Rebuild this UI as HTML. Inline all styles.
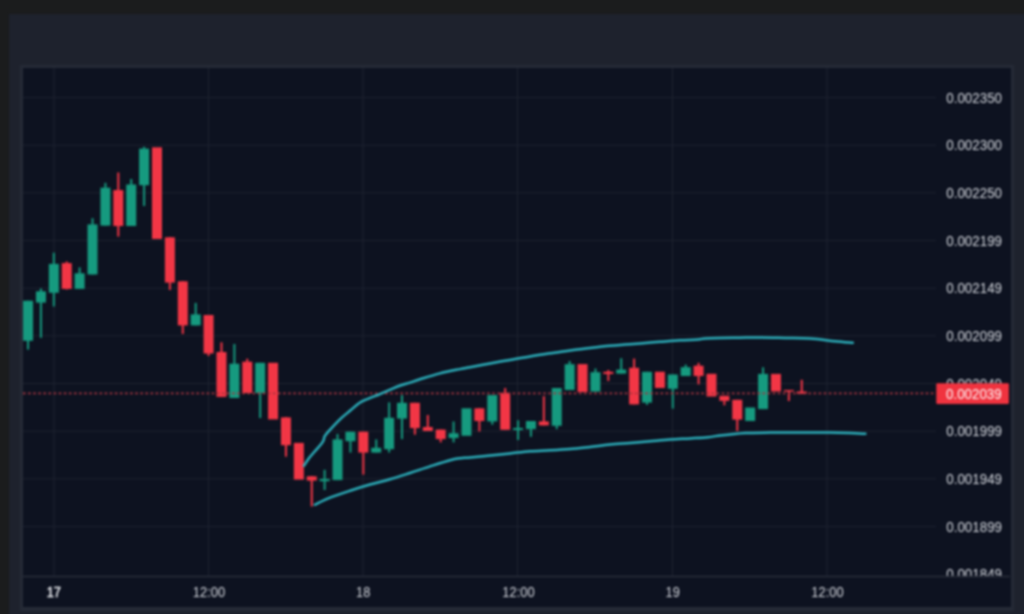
<!DOCTYPE html>
<html><head><meta charset="utf-8"><title>Chart</title>
<style>
html,body{margin:0;padding:0;background:#1b1c1d;width:1024px;height:614px;overflow:hidden;position:relative}
.panel{position:absolute;left:9px;top:14px;width:1031px;height:616px;background:#1e222d}
.frame{position:absolute;left:20px;top:65px;width:994px;height:546px;background:#252a36}
.chart{position:absolute;left:23px;top:68px;width:988px;height:539px;background:#0d1220}
svg{position:absolute;left:0;top:0}
#w{position:absolute;left:0;top:0;width:1040px;height:630px;filter:blur(0.8px)}
text{font-family:"Liberation Sans",sans-serif}
.pl text{font-size:14.5px;fill:#d6d9df}
.tl text{font-size:14.5px;fill:#d6d9df}
.tl text.b{fill:#eceef2;stroke:#eceef2;stroke-width:0.45px}
.cp{font-size:14.5px;fill:#ffffff}
</style></head><body>
<div id="w"><div class="panel"></div><div class="frame"></div><div class="chart"></div>
<svg width="1024" height="614" viewBox="0 0 1024 614">
<g stroke="#1e2330" stroke-width="1"><line x1="54" y1="68" x2="54" y2="576"/><line x1="208.5" y1="68" x2="208.5" y2="576"/><line x1="363" y1="68" x2="363" y2="576"/><line x1="517.5" y1="68" x2="517.5" y2="576"/><line x1="672.5" y1="68" x2="672.5" y2="576"/><line x1="827" y1="68" x2="827" y2="576"/><line x1="23" y1="97.6" x2="936" y2="97.6"/><line x1="23" y1="145.25" x2="936" y2="145.25"/><line x1="23" y1="192.9" x2="936" y2="192.9"/><line x1="23" y1="240.55" x2="936" y2="240.55"/><line x1="23" y1="288.2" x2="936" y2="288.2"/><line x1="23" y1="335.85" x2="936" y2="335.85"/><line x1="23" y1="383.5" x2="936" y2="383.5"/><line x1="23" y1="431.15" x2="936" y2="431.15"/><line x1="23" y1="478.8" x2="936" y2="478.8"/><line x1="23" y1="526.45" x2="936" y2="526.45"/></g>
<g fill="#169a7f"><rect x="23.05" y="300.7" width="10" height="40.1"/><rect x="27.05" y="300.7" width="2" height="48.9"/><rect x="35.95" y="291.3" width="10" height="11.3"/><rect x="39.95" y="288.5" width="2" height="49.3"/><rect x="48.84" y="263.9" width="10" height="28.9"/><rect x="52.84" y="252.7" width="2" height="53.8"/><rect x="74.63" y="273.3" width="10" height="15.6"/><rect x="78.63" y="267.4" width="2" height="21.6"/><rect x="87.52" y="224.4" width="10" height="50.1"/><rect x="91.52" y="218.2" width="2" height="56.3"/><rect x="100.42" y="187.7" width="10" height="37.9"/><rect x="104.42" y="182.8" width="2" height="42.8"/><rect x="126.21" y="184.5" width="10" height="41.5"/><rect x="130.21" y="179" width="2" height="47"/><rect x="139.1" y="148.6" width="10" height="36.6"/><rect x="143.1" y="146.8" width="2" height="59.2"/><rect x="190.69" y="314.4" width="10" height="11"/><rect x="194.69" y="302.9" width="2" height="22.5"/><rect x="229.37" y="363.7" width="10" height="34.3"/><rect x="233.37" y="344" width="2" height="54"/><rect x="255.16" y="362.8" width="10" height="30.2"/><rect x="259.16" y="362.8" width="2" height="55.2"/><rect x="319.63" y="479" width="10" height="2.2"/><rect x="323.63" y="469.8" width="2" height="20.2"/><rect x="332.53" y="439.4" width="10" height="40.7"/><rect x="336.53" y="433.9" width="2" height="46.2"/><rect x="345.43" y="431.7" width="10" height="9.5"/><rect x="349.43" y="431.7" width="2" height="20.9"/><rect x="371.21" y="447.8" width="10" height="4.8"/><rect x="375.21" y="439.4" width="2" height="13.2"/><rect x="384.11" y="417.8" width="10" height="31.4"/><rect x="388.11" y="402.4" width="2" height="50.1"/><rect x="397" y="402.8" width="10" height="15.8"/><rect x="401" y="395.1" width="2" height="44"/><rect x="448.58" y="433.2" width="10" height="4.8"/><rect x="452.58" y="421.5" width="2" height="20.9"/><rect x="461.48" y="408.3" width="10" height="27.5"/><rect x="487.27" y="395" width="10" height="26.4"/><rect x="491.27" y="395" width="2" height="29.7"/><rect x="513.06" y="428" width="10" height="2"/><rect x="517.06" y="420.3" width="2" height="19.7"/><rect x="525.95" y="421" width="10" height="8.1"/><rect x="529.95" y="421" width="2" height="15.8"/><rect x="551.74" y="388" width="10" height="37.8"/><rect x="555.74" y="388" width="2" height="41.1"/><rect x="564.64" y="364.2" width="10" height="25.8"/><rect x="568.64" y="361" width="2" height="29"/><rect x="590.43" y="372.2" width="10" height="19.4"/><rect x="594.43" y="368.5" width="2" height="23.1"/><rect x="616.22" y="369.6" width="10" height="4"/><rect x="620.22" y="358.2" width="2" height="15.4"/><rect x="642.01" y="371.8" width="10" height="30.8"/><rect x="646.01" y="371.8" width="2" height="33"/><rect x="667.8" y="374.5" width="10" height="14.3"/><rect x="671.8" y="374.5" width="2" height="34.1"/><rect x="680.69" y="367.2" width="10" height="8.8"/><rect x="684.69" y="364.6" width="2" height="11.4"/><rect x="745.17" y="407.5" width="10" height="13.5"/><rect x="758.06" y="373.9" width="10" height="35.2"/><rect x="762.06" y="367.3" width="2" height="41.8"/></g>
<g fill="#f23645"><rect x="61.73" y="263.1" width="10" height="25.8"/><rect x="65.73" y="261.5" width="2" height="28"/><rect x="113.31" y="190.1" width="10" height="35.9"/><rect x="117.31" y="172.5" width="2" height="64.1"/><rect x="152" y="147.3" width="10" height="91.7"/><rect x="164.9" y="237.3" width="10" height="45.3"/><rect x="168.9" y="237" width="2" height="53"/><rect x="177.79" y="281.3" width="10" height="44.1"/><rect x="181.79" y="281" width="2" height="53"/><rect x="203.58" y="315" width="10" height="38.5"/><rect x="207.58" y="315" width="2" height="41"/><rect x="216.47" y="352" width="10" height="44.9"/><rect x="220.47" y="342.3" width="2" height="54.7"/><rect x="242.27" y="361.7" width="10" height="31.3"/><rect x="246.27" y="358.7" width="2" height="34.3"/><rect x="268.06" y="362.8" width="10" height="56.6"/><rect x="280.95" y="417.4" width="10" height="27.8"/><rect x="284.95" y="417" width="2" height="39.7"/><rect x="293.85" y="442.9" width="10" height="36.7"/><rect x="306.74" y="476.3" width="10" height="4.3"/><rect x="310.74" y="476" width="2" height="30.5"/><rect x="358.32" y="431.7" width="10" height="20.9"/><rect x="362.32" y="431.7" width="2" height="42.9"/><rect x="409.9" y="402.8" width="10" height="25.3"/><rect x="413.9" y="402.8" width="2" height="31.9"/><rect x="422.8" y="427" width="10" height="4"/><rect x="426.8" y="415" width="2" height="16"/><rect x="435.69" y="429.6" width="10" height="9.5"/><rect x="439.69" y="429.6" width="2" height="12.8"/><rect x="474.38" y="408.3" width="10" height="12.7"/><rect x="478.38" y="408" width="2" height="23.5"/><rect x="500.17" y="392.8" width="10" height="37"/><rect x="504.17" y="388" width="2" height="41.8"/><rect x="538.85" y="421.4" width="10" height="4"/><rect x="542.85" y="396.1" width="2" height="29.3"/><rect x="577.53" y="364.1" width="10" height="27.9"/><rect x="603.32" y="371.8" width="10" height="2.2"/><rect x="607.32" y="370" width="2" height="11"/><rect x="629.11" y="367.8" width="10" height="36.6"/><rect x="633.11" y="358.6" width="2" height="45.8"/><rect x="654.9" y="371.7" width="10" height="16.3"/><rect x="693.59" y="365.7" width="10" height="10.3"/><rect x="697.59" y="362.8" width="2" height="21.6"/><rect x="706.48" y="373.8" width="10" height="22.7"/><rect x="719.38" y="395.8" width="10" height="5.1"/><rect x="723.38" y="395.8" width="2" height="9.5"/><rect x="732.27" y="399.8" width="10" height="19.8"/><rect x="736.27" y="399.8" width="2" height="31.2"/><rect x="770.96" y="373.9" width="10" height="17.6"/><rect x="783.85" y="390" width="10" height="1.5"/><rect x="787.85" y="390" width="2" height="11"/><rect x="796.75" y="391.5" width="10" height="2.2"/><rect x="800.75" y="379.8" width="2" height="13.9"/></g>
<line x1="23" y1="393.3" x2="936" y2="393.3" stroke="#a8343f" stroke-width="1.7" stroke-dasharray="2.6 2.5"/>
<g fill="none" stroke="#2cb0bc" stroke-width="2.5" stroke-linejoin="round" stroke-linecap="round"><path d="M303.96,465.8 C304.85,464.47 307.51,460.18 309.3,457.8 C311.09,455.42 312.75,453.75 314.7,451.5 C316.65,449.25 319.5,446.23 321,444.3 C322.5,442.37 323.1,441.23 323.7,439.9 C324.3,438.57 323.72,437.8 324.6,436.3 C325.48,434.8 326.4,433.77 329,430.9 C331.6,428.03 336.65,422.5 340.2,419.1 C343.75,415.7 347.05,413.23 350.3,410.5 C353.55,407.77 356.57,404.72 359.7,402.7 C362.83,400.68 365.72,399.83 369.1,398.4 C372.48,396.97 376.37,395.6 380,394.1 C383.63,392.6 387.52,390.83 390.9,389.4 C394.28,387.97 397.12,386.63 400.3,385.5 C403.48,384.37 406.72,383.63 410,382.6 C413.28,381.57 415,380.83 420,379.3 C425,377.77 433.33,375.1 440,373.4 C446.67,371.7 455,370.13 460,369.1 C465,368.07 465,368.15 470,367.2 C475,366.25 483.33,364.62 490,363.4 C496.67,362.18 503.33,361.07 510,359.9 C516.67,358.73 523.33,357.5 530,356.4 C536.67,355.3 543.33,354.3 550,353.3 C556.67,352.3 563.33,351.28 570,350.4 C576.67,349.52 583.33,348.77 590,348 C596.67,347.23 604.17,346.37 610,345.8 C615.83,345.23 620,345 625,344.6 C630,344.2 634.17,343.87 640,343.4 C645.83,342.93 653.33,342.32 660,341.8 C666.67,341.28 673.67,340.68 680,340.3 C686.33,339.92 693.83,339.82 698,339.5 C702.17,339.18 701.33,338.67 705,338.4 C708.67,338.13 714.17,338.02 720,337.9 C725.83,337.78 733.33,337.77 740,337.7 C746.67,337.63 752.5,337.47 760,337.5 C767.5,337.53 776.67,337.75 785,337.9 C793.33,338.05 801.67,337.85 810,338.4 C818.33,338.95 827.87,340.47 835,341.2 C842.13,341.93 849.83,342.53 852.8,342.8"/><path d="M314.7,504.8 C317.25,503.62 324.12,500.05 330,497.7 C335.88,495.35 343.33,492.9 350,490.7 C356.67,488.5 363.33,486.4 370,484.5 C376.67,482.6 383.33,481.22 390,479.3 C396.67,477.38 403.33,475.15 410,473 C416.67,470.85 423.33,468.53 430,466.4 C436.67,464.27 444.95,461.57 450,460.2 C455.05,458.83 456.97,458.65 460.3,458.2 C463.63,457.75 465.05,457.95 470,457.5 C474.95,457.05 483.33,456.18 490,455.5 C496.67,454.82 503.33,454.12 510,453.4 C516.67,452.68 523.33,451.72 530,451.2 C536.67,450.68 543.33,450.67 550,450.3 C556.67,449.93 563.33,449.57 570,449 C576.67,448.43 583.33,447.63 590,446.9 C596.67,446.17 603.33,445.25 610,444.6 C616.67,443.95 623.33,443.55 630,443 C636.67,442.45 643.33,441.87 650,441.3 C656.67,440.73 663.33,440.08 670,439.6 C676.67,439.12 683.67,438.8 690,438.4 C696.33,438 703,437.7 708,437.2 C713,436.7 716.33,435.83 720,435.4 C723.67,434.97 725.8,435 730,434.6 C734.2,434.2 738.53,433.33 745.2,433 C751.87,432.67 762.53,432.68 770,432.6 C777.47,432.52 783.33,432.5 790,432.5 C796.67,432.5 803.33,432.58 810,432.6 C816.67,432.62 823.33,432.52 830,432.6 C836.67,432.68 844.1,432.91 850,433.1 C855.9,433.29 862.83,433.64 865.4,433.75"/></g>
<g class="pl"><text x="946.3" y="102.7" textLength="55.7" lengthAdjust="spacingAndGlyphs">0.002350</text><text x="946.3" y="150.35" textLength="55.7" lengthAdjust="spacingAndGlyphs">0.002300</text><text x="946.3" y="198" textLength="55.7" lengthAdjust="spacingAndGlyphs">0.002250</text><text x="946.3" y="245.65" textLength="55.7" lengthAdjust="spacingAndGlyphs">0.002199</text><text x="946.3" y="293.3" textLength="55.7" lengthAdjust="spacingAndGlyphs">0.002149</text><text x="946.3" y="340.95" textLength="55.7" lengthAdjust="spacingAndGlyphs">0.002099</text><text x="946.3" y="388.6" textLength="55.7" lengthAdjust="spacingAndGlyphs">0.002049</text><text x="946.3" y="436.25" textLength="55.7" lengthAdjust="spacingAndGlyphs">0.001999</text><text x="946.3" y="483.9" textLength="55.7" lengthAdjust="spacingAndGlyphs">0.001949</text><text x="946.3" y="531.55" textLength="55.7" lengthAdjust="spacingAndGlyphs">0.001899</text><text x="946.3" y="579.2" textLength="55.7" lengthAdjust="spacingAndGlyphs">0.001849</text></g>
<rect x="23" y="576.5" width="987" height="30.5" fill="#0d1220"/>
<line x1="23" y1="576.5" x2="1010" y2="576.5" stroke="#2a2f3b" stroke-width="1.5"/>
<rect x="936.3" y="383.2" width="72.6" height="20.7" rx="1" fill="#f0333f"/>
<text class="cp" x="946" y="398.6" textLength="55.7" lengthAdjust="spacingAndGlyphs">0.002039</text>
<g class="tl"><text x="46.7" y="597.4" class="b" textLength="14.2" lengthAdjust="spacingAndGlyphs">17</text><text x="192.8" y="597.4" textLength="32.4" lengthAdjust="spacingAndGlyphs">12:00</text><text x="356.1" y="597.4" textLength="14.2" lengthAdjust="spacingAndGlyphs">18</text><text x="502.3" y="597.4" textLength="32.4" lengthAdjust="spacingAndGlyphs">12:00</text><text x="665.6" y="597.4" textLength="14.2" lengthAdjust="spacingAndGlyphs">19</text><text x="811.3" y="597.4" textLength="32.4" lengthAdjust="spacingAndGlyphs">12:00</text></g>
</svg></div>
</body></html>
